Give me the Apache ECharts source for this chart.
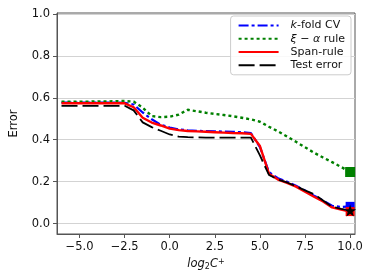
<!DOCTYPE html>
<html><head><meta charset="utf-8">
<script src="https://cdn.jsdelivr.net/npm/echarts@6/dist/echarts.min.js"></script>
<style>html,body{margin:0;padding:0;background:#fff}#c{width:374px;height:280px}</style>
</head><body><div id="c"></div>
<script>
const xs = [-6,-5.5,-5,-4.5,-4,-3.5,-3,-2.5,-2,-1.5,-1,-0.5,0,0.5,1,1.5,2,2.5,3,3.5,4,4.5,5,5.5,6,6.5,7,7.5,8,8.5,9,9.5,10];
const kfold = [0.577,0.577,0.577,0.577,0.577,0.577,0.577,0.576,0.568,0.53,0.498,0.472,0.458,0.449,0.445,0.443,0.441,0.44,0.439,0.438,0.436,0.432,0.365,0.245,0.216,0.2,0.18,0.158,0.133,0.11,0.085,0.079,0.082];
const xiAlpha = [0.582,0.582,0.582,0.582,0.583,0.583,0.584,0.585,0.582,0.553,0.513,0.508,0.51,0.52,0.543,0.536,0.529,0.523,0.518,0.512,0.505,0.497,0.486,0.462,0.44,0.415,0.39,0.364,0.338,0.315,0.293,0.27,0.246];
const span = [0.574,0.574,0.574,0.574,0.574,0.574,0.574,0.574,0.555,0.505,0.482,0.468,0.453,0.446,0.442,0.44,0.438,0.436,0.434,0.432,0.431,0.428,0.37,0.238,0.21,0.194,0.176,0.152,0.128,0.105,0.077,0.067,0.057];
const testErr = [0.562,0.562,0.562,0.562,0.562,0.562,0.562,0.562,0.54,0.483,0.46,0.443,0.425,0.415,0.412,0.411,0.41,0.41,0.41,0.41,0.41,0.41,0.325,0.232,0.21,0.196,0.178,0.158,0.14,0.11,0.08,0.07,0.062];
const xTicks = [-5,-2.5,0,2.5,5,7.5,10];
const yTicks = [0,0.2,0.4,0.6,0.8,1.0];
const names = ['k-fold CV','ξ − α rule','Span-rule','Test error'];

const pair = arr => xs.map((x,i)=>[x,arr[i]]);
const last = arr => [[xs[xs.length-1], arr[arr.length-1]]];
const STAR = 'path://M50,0 L61.8,35.1 L97.6,35.1 L68.8,56.7 L79.4,91 L50,70 L20.6,91 L31.2,56.7 L2.4,35.1 L38.2,35.1 Z';
const FONT = 'DejaVu Sans';

const chart = echarts.init(document.getElementById('c'), null, {renderer:'canvas'});
chart.setOption({
  animation:false,
  backgroundColor:'#fff',
  grid:{left:50,right:19,top:13,bottom:46,show:true,borderColor:'#555',borderWidth:1},
  xAxis:{type:'value',min:-6.25,max:10.27,
    name:'{i|log}{s|2}{i|C}{p|+}',nameLocation:'middle',nameGap:18,
    nameTextStyle:{rich:{
      i:{fontFamily:FONT,fontStyle:'italic',fontSize:11.5,color:'#111'},
      s:{fontFamily:FONT,fontStyle:'normal',fontSize:8,color:'#111',verticalAlign:'bottom',padding:[5,0,0,0]},
      p:{fontFamily:FONT,fontStyle:'italic',fontSize:8,color:'#111',verticalAlign:'top',padding:[0,0,5,0]}}},
    axisLine:{show:true,onZero:false,lineStyle:{color:'#555',width:1}},
    axisTick:{show:true,length:4,customValues:xTicks,lineStyle:{color:'#555'}},
    axisLabel:{customValues:xTicks,margin:7,fontFamily:FONT,fontSize:11.5,color:'#111',
      formatter:v=>(v<0?'\u2212':'')+Math.abs(v).toFixed(1)},
    splitLine:{show:false}},
  yAxis:{type:'value',min:-0.05,max:1.005,
    name:'Error',nameLocation:'middle',nameGap:37,
    nameTextStyle:{fontFamily:FONT,fontSize:11.5,color:'#111'},
    axisLine:{show:true,onZero:false,lineStyle:{color:'#555',width:1}},
    axisTick:{show:true,length:4,customValues:yTicks,lineStyle:{color:'#555'}},
    axisLabel:{customValues:yTicks,margin:7,fontFamily:FONT,fontSize:11.5,color:'#111',
      formatter:v=>v.toFixed(1)},
    splitLine:{show:true,lineStyle:{color:'#d3d3d3',width:1}}},
  legend:{orient:'vertical',right:23,top:16,data:names,
    itemWidth:40,itemHeight:14,itemGap:2,
    padding:[4,6,4,7],
    itemStyle:{opacity:0,color:'rgba(0,0,0,0)',borderWidth:0},
    backgroundColor:'rgba(255,255,255,0.85)',borderColor:'#cccccc',borderWidth:1,borderRadius:3,
    textStyle:{fontFamily:FONT,fontSize:11,color:'#111',padding:[0,0,0,7],
      rich:{it:{fontFamily:FONT,fontStyle:'italic',fontSize:11,color:'#111'},
            n:{fontFamily:FONT,fontSize:11,color:'#111'}}},
    formatter:function(n){
      if(n==='k-fold CV') return '{it|k}{n|-fold CV}';
      if(n==='ξ − α rule') return '{it|ξ}{n| − }{it|α}{n| rule}';
      return '{n|'+n+'}';
    }},
  series:[
    {name:names[0],type:'line',data:pair(kfold),symbol:'none',z:2,
      lineStyle:{color:'#0000ff',width:2.2,type:[10,3,3,3]},itemStyle:{color:'#0000ff'}},
    {name:names[1],type:'line',data:pair(xiAlpha),symbol:'none',z:3,
      lineStyle:{color:'#008000',width:2.4,type:[3,3]},itemStyle:{color:'#008000'}},
    {name:names[2],type:'line',data:pair(span),symbol:'none',z:4,
      lineStyle:{color:'#ff0000',width:2.4,type:'solid'},itemStyle:{color:'#ff0000'}},
    {name:names[3],type:'line',data:pair(testErr),symbol:'none',z:5,
      lineStyle:{color:'#000000',width:1.8,type:[16,5]},itemStyle:{color:'#000000'}},
    {type:'scatter',data:last(kfold),symbol:'rect',symbolSize:9,z:6,itemStyle:{color:'#0000ff',opacity:1}},
    {type:'scatter',data:last(xiAlpha),symbol:'rect',symbolSize:10,z:6,itemStyle:{color:'#008000',opacity:1}},
    {type:'scatter',data:last(span),symbol:'rect',symbolSize:9,z:7,itemStyle:{color:'#ff0000',opacity:1}},
    {type:'scatter',data:last(testErr),symbol:STAR,symbolSize:12,z:8,itemStyle:{color:'#000000',opacity:1}}
  ]
});
</script></body></html>
